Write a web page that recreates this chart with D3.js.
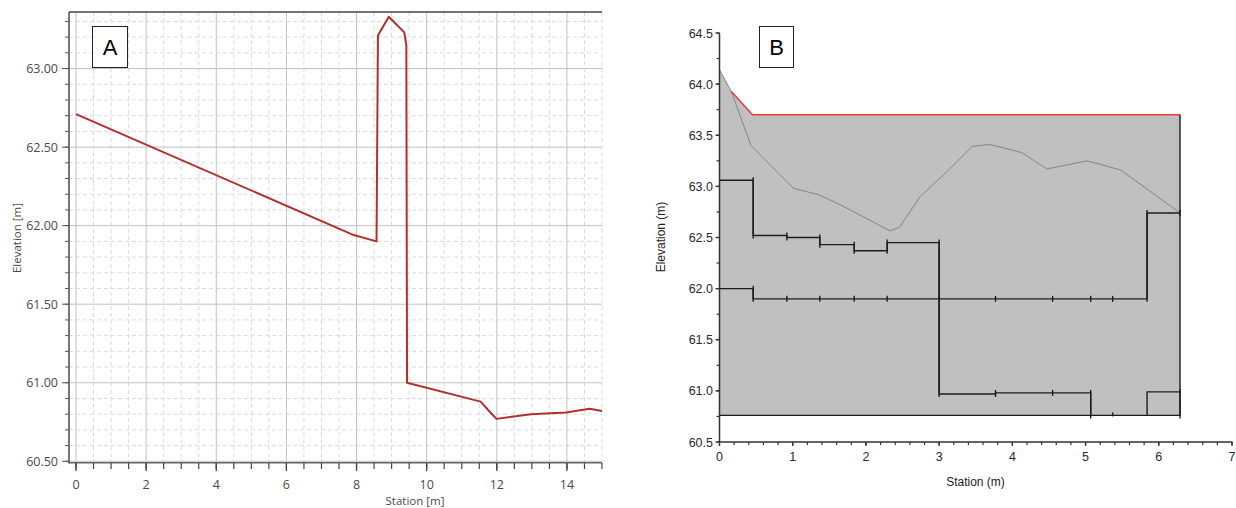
<!DOCTYPE html>
<html><head><meta charset="utf-8">
<script src="https://cdn.jsdelivr.net/npm/d3@7"></script>
<style>body{margin:0;background:#fff} svg{display:block}</style>
</head><body>
<svg id="c" width="1236" height="508"></svg>
<script>
// ---------- Panel A data ----------
const stationA = [0, 7.92, 8.57, 8.61, 8.92, 9.36, 9.42, 9.44, 11.54, 11.78, 11.99, 12.97, 13.97, 14.65, 15.0];
const elevA    = [62.71, 61.94, 61.90, 63.21, 63.33, 63.23, 63.15, 61.00, 60.88, 60.82, 60.77, 60.80, 60.81, 60.835, 60.82];
const xTicksA = [0, 2, 4, 6, 8, 10, 12, 14];
const yTicksA = [60.5, 61.0, 61.5, 62.0, 62.5, 63.0];

// ---------- Panel B data ----------
const groundStation = [0, 0.16, 0.43, 1.01, 1.35, 1.65, 2.33, 2.46, 2.74, 3.01, 3.10, 3.45, 3.69, 4.13, 4.47, 5.02, 5.48, 6.29];
const groundElev    = [64.14, 63.93, 63.40, 62.98, 62.92, 62.82, 62.565, 62.60, 62.90, 63.08, 63.14, 63.39, 63.41, 63.33, 63.17, 63.25, 63.16, 62.74];
const wsStation = [0.16, 0.45, 6.29];
const wsElev    = [63.93, 63.70, 63.70];
const fillStation = [0, 0.16, 0.45, 6.29, 6.29, 0];
const fillElev    = [64.14, 63.93, 63.70, 63.70, 60.76, 60.76];
const borderStation = [0, 6.29, 6.29];
const borderElev    = [60.76, 60.76, 63.70];
const upperStation = [0, 0.46, 0.92, 1.37, 1.84, 2.29, 3.0, 3.77, 4.55, 5.07];
const upperElev    = [63.06, 62.52, 62.50, 62.43, 62.37, 62.45, 60.97, 60.98, 60.98, 60.76];
const midStation = [0, 0.46, 0.92, 1.37, 1.84, 2.29, 3.0, 3.77, 4.55, 5.07, 5.37, 5.84, 6.29];
const midElev    = [62.0, 61.90, 61.90, 61.90, 61.90, 61.90, 61.90, 61.90, 61.90, 61.90, 61.90, 62.74, 62.74];
const lowStation = [5.84, 6.29];
const lowElev    = [60.76, 60.99];
const bottomMarkStation = [5.37];
const bottomMarkElev = [60.76];
const xTicksB = [0, 1, 2, 3, 4, 5, 6, 7];
const yTicksB = [60.5, 61.0, 61.5, 62.0, 62.5, 63.0, 63.5, 64.0, 64.5];

const svg = d3.select("#c");

// =============== Panel A ===============
const xA = d3.scaleLinear().domain([-0.2, 15]).range([69, 602]);
const yA = d3.scaleLinear().domain([60.5, 63.36]).range([461.3, 12]);
const gA = svg.append("g");
const fontA = "'Open Sans','Noto Sans',sans-serif";

// minor grid
const minorX = d3.range(0, 15.01, 0.5).filter(v => Math.abs(v % 2) > 1e-6);
const minorY = d3.range(60.6, 63.36, 0.1).filter(v => Math.abs(((v - 60.5) / 0.5) - Math.round((v - 60.5) / 0.5)) > 1e-4);
gA.selectAll(".mx").data(minorX).join("line")
  .attr("x1", d => xA(d)).attr("x2", d => xA(d)).attr("y1", 12).attr("y2", 462)
  .attr("stroke", "#dadada").attr("stroke-dasharray", "4,3").attr("stroke-width", 1);
gA.selectAll(".my").data(minorY).join("line")
  .attr("x1", 69).attr("x2", 602).attr("y1", d => yA(d)).attr("y2", d => yA(d))
  .attr("stroke", "#dadada").attr("stroke-dasharray", "4,3").attr("stroke-width", 1);
// major grid
gA.selectAll(".Mx").data(xTicksA).join("line")
  .attr("x1", d => xA(d)).attr("x2", d => xA(d)).attr("y1", 12).attr("y2", 462)
  .attr("stroke", "#c2c2c2").attr("stroke-width", 1);
gA.selectAll(".My").data(yTicksA).join("line")
  .attr("x1", 69).attr("x2", 602).attr("y1", d => yA(d)).attr("y2", d => yA(d))
  .attr("stroke", "#c2c2c2").attr("stroke-width", 1);

// data line
const lineA = d3.line().x((d, i) => xA(stationA[i])).y((d, i) => yA(elevA[i]));
gA.append("path").attr("d", lineA(stationA)).attr("fill", "none")
  .attr("stroke", "#b0302e").attr("stroke-width", 2).attr("stroke-linejoin", "round");

// borders / axes
gA.append("line").attr("x1", 69).attr("x2", 602).attr("y1", 12).attr("y2", 12).attr("stroke", "#444").attr("stroke-width", 1.3);
gA.append("line").attr("x1", 69).attr("x2", 69).attr("y1", 12).attr("y2", 463.5).attr("stroke", "#555").attr("stroke-width", 1.6);
gA.append("line").attr("x1", 69).attr("x2", 602).attr("y1", 462.8).attr("y2", 462.8).attr("stroke", "#666").attr("stroke-width", 1.6);

// y ticks
const yMinorTicksA = d3.range(60.5, 63.36, 0.1);
gA.selectAll(".yt").data(yMinorTicksA).join("line")
  .attr("x1", 65).attr("x2", 69).attr("y1", d => yA(d)).attr("y2", d => yA(d)).attr("stroke", "#555").attr("stroke-width", 1);
gA.selectAll(".yT").data(yTicksA).join("line")
  .attr("x1", 62).attr("x2", 69).attr("y1", d => yA(d)).attr("y2", d => yA(d)).attr("stroke", "#555").attr("stroke-width", 1);
gA.selectAll(".yl").data(yTicksA).join("text")
  .attr("x", 58).attr("y", d => yA(d)).attr("dy", "0.36em").attr("text-anchor", "end")
  .attr("font-family", fontA).attr("font-size", 12.5).attr("fill", "#4a4a4a")
  .text(d => d3.format(".2f")(d));
// x ticks
gA.selectAll(".xt").data(d3.range(0, 15.01, 0.5)).join("line")
  .attr("x1", d => xA(d)).attr("x2", d => xA(d)).attr("y1", 463).attr("y2", 469).attr("stroke", "#444").attr("stroke-width", 1.2);
gA.selectAll(".xT").data(xTicksA).join("line")
  .attr("x1", d => xA(d)).attr("x2", d => xA(d)).attr("y1", 463).attr("y2", 471).attr("stroke", "#444").attr("stroke-width", 1.3);
gA.selectAll(".xl").data(xTicksA).join("text")
  .attr("x", d => xA(d)).attr("y", 488.5).attr("text-anchor", "middle")
  .attr("font-family", fontA).attr("font-size", 12.5).attr("fill", "#4a4a4a")
  .text(d => d);
gA.append("text").attr("x", 415).attr("y", 504.5).attr("text-anchor", "middle")
  .attr("font-family", fontA).attr("font-size", 11.5).attr("fill", "#4a4a4a").text("Station [m]");
gA.append("text").attr("transform", "translate(21,238) rotate(-90)").attr("text-anchor", "middle")
  .attr("font-family", fontA).attr("font-size", 11.5).attr("fill", "#4a4a4a").text("Elevation [m]");
// label box
gA.append("rect").attr("x", 92.5).attr("y", 26.5).attr("width", 35).attr("height", 41)
  .attr("fill", "#fff").attr("stroke", "#222").attr("stroke-width", 1);
gA.append("text").attr("x", 110).attr("y", 55).attr("text-anchor", "middle")
  .attr("font-family", "'Liberation Sans',Arial,sans-serif").attr("font-size", 22).attr("fill", "#000").text("A");

// =============== Panel B ===============
const xB = d3.scaleLinear().domain([0, 7]).range([719.5, 1232]);
const yB = d3.scaleLinear().domain([60.5, 64.5]).range([442, 33]);
const gB = svg.append("g");
const fontB = "'Liberation Sans',Arial,sans-serif";
const mk = (sx, sy, curve) => d3.line().curve(curve || d3.curveLinear)
  .x((d, i) => xB(sx[i])).y((d, i) => yB(sy[i]))(sx);

gB.append("path").attr("d", mk(fillStation, fillElev) + "Z").attr("fill", "#c0c0c0").attr("stroke", "none");
gB.append("path").attr("d", mk(groundStation, groundElev)).attr("fill", "none").attr("stroke", "#858585").attr("stroke-width", 1);
gB.append("path").attr("d", mk(wsStation, wsElev)).attr("fill", "none").attr("stroke", "#f03a3a").attr("stroke-width", 1.5);

const black = "#1c1c1c";
gB.append("path").attr("d", mk(borderStation, borderElev)).attr("fill", "none").attr("stroke", black).attr("stroke-width", 1.4);
gB.append("path").attr("d", mk(upperStation, upperElev, d3.curveStepAfter)).attr("fill", "none").attr("stroke", black).attr("stroke-width", 1.4);
gB.append("path").attr("d", mk(midStation, midElev, d3.curveStepAfter)).attr("fill", "none").attr("stroke", black).attr("stroke-width", 1.4);
gB.append("path").attr("d", mk(lowStation, lowElev, d3.curveStepBefore)).attr("fill", "none").attr("stroke", black).attr("stroke-width", 1.4);

// vertex marks on step lines
function marks(sx, sy) {
  const out = [];
  for (let i = 1; i < sx.length; i++) {
    const a = yB(sy[i - 1]), b = yB(sy[i]);
    out.push({ x: xB(sx[i]), y1: Math.min(a, b) - 3, y2: Math.max(a, b) + 3 });
  }
  return out;
}
const allMarks = marks(upperStation, upperElev).concat(marks(midStation, midElev))
  .concat(marks(lowStation, lowElev))
  .concat(bottomMarkStation.map((s, i) => ({ x: xB(s), y1: yB(bottomMarkElev[i]) - 3, y2: yB(bottomMarkElev[i]) + 1 })));
gB.selectAll(".mk").data(allMarks).join("line")
  .attr("x1", d => d.x).attr("x2", d => d.x).attr("y1", d => d.y1).attr("y2", d => d.y2)
  .attr("stroke", black).attr("stroke-width", 1.4);

// axes B
gB.append("line").attr("x1", 719.5).attr("x2", 719.5).attr("y1", 33).attr("y2", 442.5).attr("stroke", "#333").attr("stroke-width", 1.5);
gB.append("line").attr("x1", 719).attr("x2", 1232.5).attr("y1", 442).attr("y2", 442).attr("stroke", "#333").attr("stroke-width", 1.5);
gB.selectAll(".ybt").data(d3.range(60.5, 64.51, 0.25)).join("line")
  .attr("x1", 716.5).attr("x2", 719.5).attr("y1", d => yB(d)).attr("y2", d => yB(d)).attr("stroke", "#333").attr("stroke-width", 1.2);
gB.selectAll(".ybT").data(yTicksB).join("line")
  .attr("x1", 715.5).attr("x2", 719.5).attr("y1", d => yB(d)).attr("y2", d => yB(d)).attr("stroke", "#333").attr("stroke-width", 1.3);
gB.selectAll(".ybl").data(yTicksB).join("text")
  .attr("x", 713).attr("y", d => yB(d)).attr("dy", "0.36em").attr("text-anchor", "end")
  .attr("font-family", fontB).attr("font-size", 12.5).attr("fill", "#2a2a2a")
  .text(d => d3.format(".1f")(d));
gB.selectAll(".xbt").data(d3.range(0, 7.01, 0.2)).join("line")
  .attr("x1", d => xB(d)).attr("x2", d => xB(d)).attr("y1", 442).attr("y2", 445).attr("stroke", "#333").attr("stroke-width", 1.2);
gB.selectAll(".xbT").data(xTicksB).join("line")
  .attr("x1", d => xB(d)).attr("x2", d => xB(d)).attr("y1", 442).attr("y2", 446).attr("stroke", "#333").attr("stroke-width", 1.3);
gB.selectAll(".xbl").data(xTicksB).join("text")
  .attr("x", d => xB(d)).attr("y", 461).attr("text-anchor", "middle")
  .attr("font-family", fontB).attr("font-size", 12.5).attr("fill", "#2a2a2a")
  .text(d => d);
gB.append("text").attr("x", 975.5).attr("y", 486).attr("text-anchor", "middle")
  .attr("font-family", fontB).attr("font-size", 12).attr("fill", "#222").text("Station (m)");
gB.append("text").attr("transform", "translate(665,237) rotate(-90)").attr("text-anchor", "middle")
  .attr("font-family", fontB).attr("font-size", 12).attr("fill", "#222").text("Elevation (m)");
gB.append("rect").attr("x", 759.5).attr("y", 26.5).attr("width", 34).attr("height", 41)
  .attr("fill", "#fff").attr("stroke", "#222").attr("stroke-width", 1);
gB.append("text").attr("x", 776.5).attr("y", 55).attr("text-anchor", "middle")
  .attr("font-family", fontB).attr("font-size", 22).attr("fill", "#000").text("B");
</script>
</body></html>
